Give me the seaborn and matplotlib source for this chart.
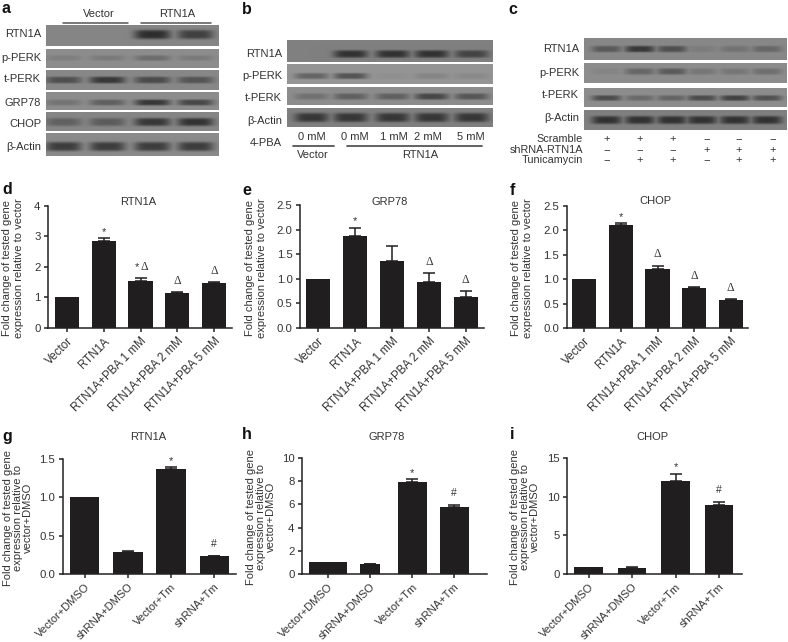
import numpy as np
import matplotlib
matplotlib.use("Agg")
import matplotlib.pyplot as plt
from matplotlib.lines import Line2D
import seaborn as sns

sns.set_theme(style="white")
plt.rcParams['font.family'] = ['Liberation Sans', 'DejaVu Sans']
W, H = 788, 642
INK = '#333333'
BAR = '#211e1f'
FS = 8.0

# ---------- bar chart data ----------
pba_cats = ['Vector', 'RTN1A', 'RTN1A+PBA 1 mM', 'RTN1A+PBA 2 mM', 'RTN1A+PBA 5 mM']
tm_cats = ['Vector+DMSO', 'shRNA+DMSO', 'Vector+Tm', 'shRNA+Tm']

d_vals = [1.0, 2.86, 1.55, 1.16, 1.47]
d_errs = [0, 0.08, 0.10, 0.03, 0.04]
d_marks = ['', '*', '*Δ', 'Δ', 'Δ']
e_vals = [1.0, 1.87, 1.37, 0.94, 0.63]
e_errs = [0, 0.17, 0.30, 0.17, 0.12]
e_marks = ['', '*', '', 'Δ', 'Δ']
f_vals = [1.0, 2.11, 1.20, 0.81, 0.58]
f_errs = [0, 0.04, 0.08, 0.03, 0.01]
f_marks = ['', '*', 'Δ', 'Δ', 'Δ']
g_vals = [1.0, 0.29, 1.37, 0.23]
g_errs = [0, 0.01, 0.02, 0.01]
g_marks = ['', '', '*', '#']
h_vals = [1.0, 0.82, 7.95, 5.80]
h_errs = [0, 0.04, 0.25, 0.15]
h_marks = ['', '', '*', '#']
i_vals = [0.95, 0.80, 12.1, 9.0]
i_errs = [0, 0.05, 0.90, 0.30]
i_marks = ['', '', '*', '#']

# ---------- blot band strengths (rows x lanes) ----------
a_rows = ['RTN1A', 'p-PERK', 't-PERK', 'GRP78', 'CHOP', 'β-Actin']
a_bands = [[0, 0, 0.95, 0.75],
           [0.14, 0.18, 0.32, 0.18],
           [0.60, 0.85, 0.65, 0.55],
           [0.25, 0.45, 0.85, 0.70],
           [0.40, 0.45, 0.85, 0.90],
           [0.80, 0.80, 0.80, 0.80]]
b_rows = ['RTN1A', 'p-PERK', 't-PERK', 'β-Actin']
b_bands = [[0, 0.90, 0.90, 0.90, 0.70],
           [0.45, 0.60, 0.05, 0.14, 0.10],
           [0.28, 0.45, 0.45, 0.70, 0.55],
           [0.85, 0.85, 0.85, 0.85, 0.85]]
c_rows = ['RTN1A', 'p-PERK', 't-PERK', 'β-Actin']
c_bands = [[0.50, 0.85, 0.60, 0.12, 0.22, 0.35],
           [0.08, 0.38, 0.50, 0.22, 0.22, 0.30],
           [0.65, 0.35, 0.40, 0.65, 0.75, 0.60],
           [0.90, 0.90, 0.90, 0.90, 0.90, 0.90]]
c_symbols = {'Scramble': ['+', '+', '+', '−', '−', '−'],
             'shRNA-RTN1A': ['−', '−', '−', '+', '+', '+'],
             'Tunicamycin': ['−', '+', '+', '−', '+', '+']}

fig = plt.figure(figsize=(W / 100, H / 100), dpi=100, facecolor='white')


def px_axes(x0, y0, x1, y1):
    return fig.add_axes([x0 / W, 1 - y1 / H, (x1 - x0) / W, (y1 - y0) / H])


def ftext(x, y, s, **kw):
    kw.setdefault('fontsize', FS)
    kw.setdefault('color', INK)
    kw.setdefault('ha', 'center')
    kw.setdefault('va', 'center')
    fig.text(x / W, 1 - y / H, s, **kw)


def fline(x0, x1, y, lw=1.1, color='#555555'):
    fig.add_artist(Line2D([x0 / W, x1 / W], [1 - y / H, 1 - y / H], lw=lw, color=color))


def blot(x0, x1, y0, y1, lanes, halfw, band_y, strengths, thick, bg):
    """Draw a blot row as a seaborn heatmap, one pixel per cell."""
    w, h = int(round(x1 - x0)), int(round(y1 - y0))
    xx, yy = np.meshgrid(np.arange(w) + x0 + 0.5, np.arange(h) + y0 + 0.5)
    dark = np.zeros_like(xx)
    for cx, s in zip(lanes, strengths):
        prof = np.exp(-((xx - cx) / halfw) ** 4) * np.exp(-((yy - band_y) / thick) ** 4)
        dark = np.maximum(dark, s * prof)
    img = bg - dark * (bg - 0.16)
    ax = px_axes(x0, y0, x1, y1)
    sns.heatmap(img, ax=ax, cmap='gray', vmin=0, vmax=1, cbar=False,
                xticklabels=False, yticklabels=False, linewidths=0, rasterized=True)
    ax.set_xlabel('')
    ax.set_ylabel('')


# ---------- panel a ----------
a_geom = [(25, 46, 34.5, 4.6), (49, 68, 58, 2.8), (70, 90, 80, 3.4),
          (92, 110, 102.5, 3.0), (112, 131, 122, 4.0), (133, 156, 146.5, 4.6)]
a_lanes = [64, 108, 153, 196]
a_bg = [0.52, 0.55, 0.53, 0.55, 0.52, 0.54]
for name, g, st, bg in zip(a_rows, a_geom, a_bands, a_bg):
    blot(45.5, 219, g[0], g[1], a_lanes, 18, g[2], st, g[3], bg)
for name, y in zip(a_rows, [34, 58, 79, 103, 124, 147]):
    ftext(41, y, name, ha='right', fontsize=8)
ftext(98.7, 14, 'Vector')
ftext(177, 14, 'RTN1A')
fline(63, 128, 22.5)
fline(141, 211, 22.5)

# ---------- panel b ----------
b_geom = [(40, 62, 54, 3.8), (64, 84, 76, 3.0), (87, 105, 96.5, 3.2), (108, 127, 117.5, 4.6)]
b_lanes = [312, 351, 393, 432, 472]
b_bg = [0.50, 0.58, 0.55, 0.50]
for g, st, bg in zip(b_geom, b_bands, b_bg):
    blot(287.3, 493.3, g[0], g[1], b_lanes, 17, g[2], st, g[3], bg)
for name, y in zip(b_rows, [54, 76, 98, 121]):
    ftext(282, y, name, ha='right', fontsize=8)
for x, s in zip([311.7, 355, 393.7, 428, 470.7], ['0 mM', '0 mM', '1 mM', '2 mM', '5 mM']):
    ftext(x, 136.7, s)
ftext(282, 143, '4-PBA', ha='right')
fline(293.3, 334, 145.7, lw=1.3)
fline(346.7, 481.7, 145.7, lw=1.3)
ftext(313, 155, 'Vector')
ftext(420, 155, 'RTN1A')

# ---------- panel c ----------
c_geom = [(38, 60, 49, 3.2), (63, 83, 71.5, 3.2), (88, 107, 98, 2.8), (110, 130, 120, 4.0)]
c_lanes = [606.7, 640, 672, 702, 735, 767]
c_bg = [0.53, 0.55, 0.55, 0.50]
for g, st, bg in zip(c_geom, c_bands, c_bg):
    blot(584, 787, g[0], g[1], c_lanes, 15, g[2], st, g[3], bg)
for name, y in zip(c_rows, [49.5, 73, 95, 118]):
    ftext(579, y, name, ha='right', fontsize=8)
for (name, syms), y in zip(c_symbols.items(), [139, 149.7, 160]):
    ftext(583, y, name, ha='right', fontsize=7.8)
    for x, s in zip([606.7, 640, 673, 707, 739, 773], syms):
        ftext(x, y, s)


# ---------- bar panels ----------
def barpanel(box, c0, c1, cats, vals, errs, marks, title, yticks, yfmt, ylabel,
             ylab_xy, title_xy, barw, tick_fs, lab_ls, width_override=None):
    x0, ytop, x1, ybot = box
    ax = px_axes(x0, ytop, x1, ybot)
    sns.barplot(x=cats, y=vals, color=BAR, saturation=1, width=barw, ax=ax,
                order=cats, errorbar=None, edgecolor='none')
    spacing = (c1 - c0) / (len(cats) - 1)
    ax.set_xlim((x0 - c0) / spacing, (x1 - c0) / spacing)
    ax.set_ylim(0, yticks[-1])
    if width_override:
        for p, wd in zip(ax.patches, width_override):
            cx = p.get_x() + p.get_width() / 2
            p.set_width(wd)
            p.set_x(cx - wd / 2)
    shown = [k for k, e in enumerate(errs) if e > 0]
    ax.errorbar(shown, [vals[k] for k in shown],
                yerr=[[0] * len(shown), [errs[k] for k in shown]], fmt='none',
                ecolor=BAR, elinewidth=1.1, capsize=4.4, capthick=1.1)
    sns.despine(ax=ax)
    for s in ('left', 'bottom'):
        ax.spines[s].set_linewidth(1.1)
        ax.spines[s].set_color('#222222')
    ax.set_yticks(yticks)
    ax.set_yticklabels([yfmt.format(v) for v in yticks], fontsize=FS + 0.2, color=INK)
    ax.set_xticks(range(len(cats)))
    ax.set_xticklabels(cats, rotation=45, ha='right', rotation_mode='anchor',
                       fontsize=tick_fs, color=INK, va='top')
    ax.tick_params(axis='both', direction='out', length=3.2, width=1.1, color='#222222',
                   left=True, bottom=True, pad=2.2)
    for i, m in enumerate(marks):
        if not m:
            continue
        top = vals[i] + errs[i]
        if m == '*Δ':
            ax.annotate('*', (i, top), xytext=(-2.2, 7.5), textcoords='offset points',
                        ha='center', va='center', fontsize=FS, color=INK)
            ax.annotate('Δ', (i, top), xytext=(2.5, 7.5), textcoords='offset points',
                        ha='center', va='center', fontsize=8.5, color=INK, family='Liberation Serif')
        elif m == '*':
            ax.annotate('*', (i, top), xytext=(0, 4.5), textcoords='offset points',
                        ha='center', va='center', fontsize=FS, color=INK)
        elif m == 'Δ':
            ax.annotate('Δ', (i, top), xytext=(0, 8), textcoords='offset points',
                        ha='center', va='center', fontsize=8.5, color=INK, family='Liberation Serif')
        else:
            ax.annotate('#', (i, top), xytext=(0, 8.5), textcoords='offset points',
                        ha='center', va='center', fontsize=7.5, color=INK)
    ftext(title_xy[0], title_xy[1], title)
    ftext(ylab_xy[0], ylab_xy[1], ylabel, rotation=90, linespacing=lab_ls, ha='center', va='center')


two = 'Fold change of tested gene\nexpression relative to vector'
three = 'Fold change of tested gene\nexpression relative to\nvector+DMSO'

barpanel((48, 206, 232, 328), 67, 214, pba_cats, d_vals, d_errs, d_marks, 'RTN1A',
         [0, 1, 2, 3, 4], '{:.0f}', two, (13, 268), (138, 202), 0.66, 8.4, 1.22)
barpanel((300, 205, 484, 328), 318.3, 465.7, pba_cats, e_vals, e_errs, e_marks, 'GRP78',
         [0, 0.5, 1.0, 1.5, 2.0, 2.5], '{:.1f}', two, (256, 268), (390, 202), 0.66, 8.4, 1.22)
barpanel((566.7, 206, 748, 328), 584.3, 730.7, pba_cats, f_vals, f_errs, f_marks, 'CHOP',
         [0, 0.5, 1.0, 1.5, 2.0, 2.5], '{:.1f}', two, (522, 268), (655, 201), 0.66, 8.4, 1.22)
barpanel((62.7, 458.7, 235.7, 574), 84.7, 214.3, tm_cats, g_vals, g_errs, g_marks, 'RTN1A',
         [0, 0.5, 1.0, 1.5], '{:.1f}', three, (18, 518), (148, 437), 0.68, 8.0, 1.05)
barpanel((302, 458, 486.7, 574), 328, 454.3, tm_cats, h_vals, h_errs, h_marks, 'GRP78',
         [0, 2, 4, 6, 8, 10], '{:.0f}', three, (261, 517), (387, 437), 0.68, 8.0, 1.05,
         width_override=[0.9, 0.46, 0.68, 0.68])
barpanel((567.3, 458.3, 741.7, 574), 588.7, 719, tm_cats, i_vals, i_errs, i_marks, 'CHOP',
         [0, 5, 10, 15], '{:.0f}', three, (525, 517), (652, 437), 0.66, 8.0, 1.05)

# ---------- panel letters ----------
letters = {'a': (2, 13), 'b': (242, 13.5), 'c': (508, 13.5), 'd': (2, 194), 'e': (242, 195),
           'f': (510, 195), 'g': (2, 441), 'h': (242, 439), 'i': (510, 439)}
for k, (x, y) in letters.items():
    fig.text(x / W, 1 - y / H, k, fontsize=11.5, fontweight='bold', color='#111111',
             ha='left', va='baseline')

fig.savefig('out.png', dpi=100, facecolor='white')
